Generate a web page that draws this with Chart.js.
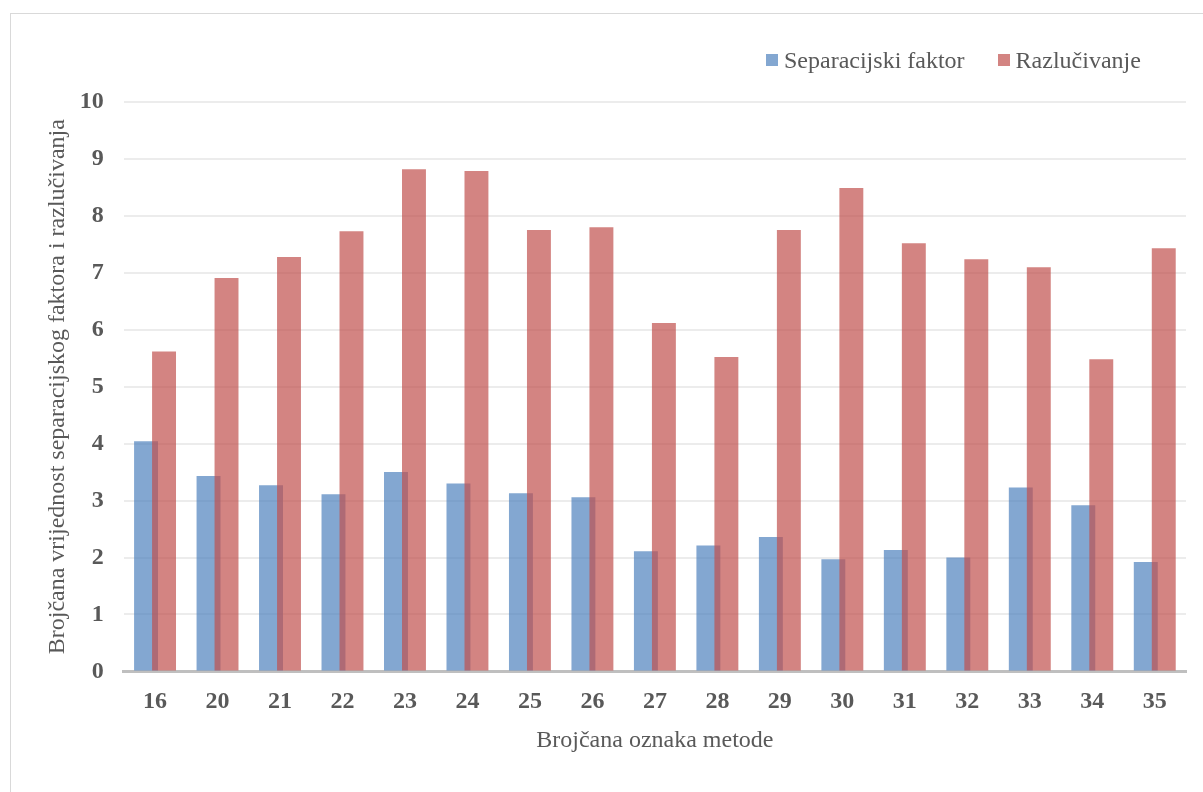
<!DOCTYPE html>
<html>
<head>
<meta charset="utf-8">
<script src="https://cdn.jsdelivr.net/npm/chart.js@4/dist/chart.umd.min.js"></script>
<style>
    html, body { margin: 0; padding: 0; background: #ffffff; }
    #frame {
        position: absolute; left: 10px; top: 13px; width: 1200px; height: 790px;
        border: 1px solid #d9d9d9; box-sizing: border-box;
    }
    #wrap { position: absolute; left: 0; top: 0; width: 1203px; height: 792px; }
    #legend {
        position: absolute; left: 766px; top: 44px; height: 32px;
        display: flex; align-items: center;
        font-family: 'Liberation Serif', 'Times New Roman', serif;
        font-size: 24px; color: #595959; white-space: nowrap;
    }
    #legend .item { display: flex; align-items: center; margin-right: 33px; }
    #legend .box { width: 12px; height: 12px; margin-right: 6px; }
</style>
</head>
<body>
<div id="frame"></div>
<div id="wrap"><canvas id="barChart"></canvas></div>
<div id="legend"></div>
<script>
// Method numbers on the x axis
const methods = ['16', '20', '21', '22', '23', '24', '25', '26', '27', '28', '29', '30', '31', '32', '33', '34', '35'];

// Separation factor per method
const separationFactor = [4.04, 3.43, 3.27, 3.11, 3.50, 3.30, 3.13, 3.06, 2.11, 2.21, 2.36, 1.97, 2.13, 2.00, 3.23, 2.92, 1.92];

// Resolution per method
const resolution = [5.62, 6.91, 7.28, 7.73, 8.82, 8.79, 7.75, 7.80, 6.12, 5.52, 7.75, 8.49, 7.52, 7.24, 7.10, 5.48, 7.43];

const yTicks = [0, 1, 2, 3, 4, 5, 6, 7, 8, 9, 10];

const serif = "'Liberation Serif', 'Times New Roman', serif";
Chart.defaults.font.family = serif;
Chart.defaults.color = '#595959';

// draw datasets first-to-last so the red bars sit on top of the blue ones
const drawInIndexOrder = {
    id: 'drawInIndexOrder',
    beforeDatasetsDraw(chart) {
        chart.getSortedVisibleDatasetMetas().forEach(meta => meta.controller.draw());
        return false;
    }
};

function createBarChart() {
    const ctx = document.getElementById('barChart');
    if (!ctx) return null;

    return new Chart(ctx, {
        type: 'bar',
        data: {
            labels: methods,
            datasets: [{
                label: 'Separacijski faktor',
                data: separationFactor,
                backgroundColor: 'rgba(79, 129, 189, 0.7)',
                borderWidth: 0
            }, {
                label: 'Razlučivanje',
                data: resolution,
                backgroundColor: 'rgba(192, 80, 77, 0.7)',
                borderWidth: 0
            }]
        },
        plugins: [drawInIndexOrder],
        options: {
            responsive: true,
            maintainAspectRatio: false,
            animation: false,
            layout: {
                padding: { left: 43, right: 17, top: 102, bottom: 37 }
            },
            datasets: {
                bar: {
                    categoryPercentage: 0.576,
                    barPercentage: 1.33
                }
            },
            plugins: {
                legend: { display: false },
                tooltip: { enabled: false }
            },
            scales: {
                x: {
                    grid: { display: false, drawTicks: false },
                    border: { color: '#bfbfbf', width: 3 },
                    ticks: {
                        padding: 16,
                        font: { size: 24, weight: 'bold' }
                    },
                    title: {
                        display: true,
                        text: 'Brojčana oznaka metode',
                        font: { size: 24 },
                        padding: { top: -6, bottom: 0 }
                    }
                },
                y: {
                    min: 0,
                    max: 10,
                    afterBuildTicks: function(axis) {
                        axis.ticks = yTicks.map(v => ({ value: v }));
                    },
                    grid: { color: '#ececec', lineWidth: 2, drawTicks: false },
                    border: { display: false },
                    ticks: {
                        padding: 20,
                        font: { size: 24, weight: 'bold' }
                    },
                    title: {
                        display: true,
                        text: 'Brojčana vrijednost separacijskog faktora i razlučivanja',
                        font: { size: 24 },
                        padding: { top: 0, bottom: -12 }
                    }
                }
            }
        }
    });
}

/**
 * Build the legend from the chart's datasets
 */
function buildLegend(chart) {
    const legend = document.getElementById('legend');
    chart.data.datasets.forEach(ds => {
        const item = document.createElement('div');
        item.className = 'item';
        const box = document.createElement('span');
        box.className = 'box';
        box.style.background = ds.backgroundColor;
        const text = document.createElement('span');
        text.textContent = ds.label;
        item.appendChild(box);
        item.appendChild(text);
        legend.appendChild(item);
    });
}

const chart = createBarChart();
buildLegend(chart);
</script>
</body>
</html>
